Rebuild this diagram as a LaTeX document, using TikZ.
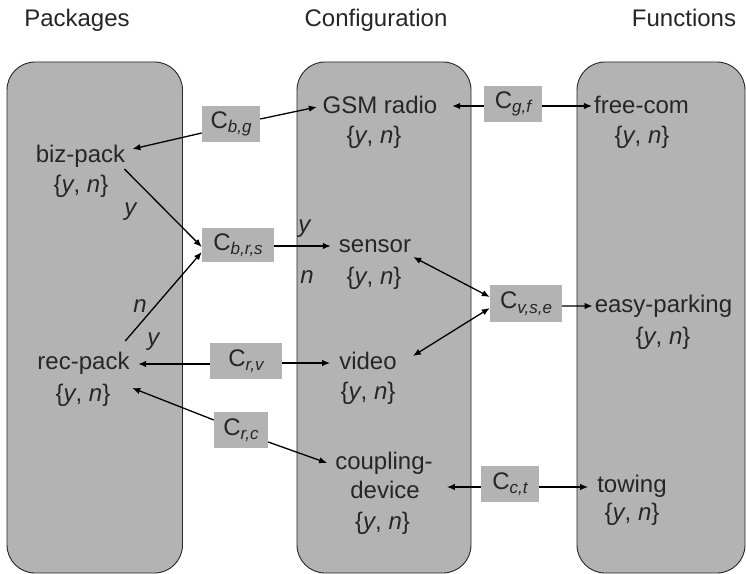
\documentclass[tikz,border=0pt]{standalone}
\usepackage{fontspec}
\setmainfont{Liberation Sans}
\usetikzlibrary{arrows.meta}
\definecolor{panelgray}{RGB}{179,179,179}
\definecolor{txt}{RGB}{38,38,38}
% italic, lowered subscript of a constraint name
\newcommand\csub[1]{\raisebox{-4.5bp}{\fontsize{17bp}{17bp}\selectfont\itshape #1}}
% value domain of a variable
\newcommand\yndom{\{\textit{y}, \textit{n}\}}

\begin{document}
\begin{tikzpicture}[x=1bp,y=-1bp,
  every node/.style={font=\fontsize{24bp}{29bp}\selectfont, text=txt, inner sep=0pt},
  lbl/.style={anchor=base},
  panel/.style={draw=black!85, line width=0.9bp, fill=panelgray, rounded corners=28bp},
  cbox/.style={fill=panelgray, minimum height=36bp, anchor=center},
  link/.style={line width=1.3bp, draw=black},
  onehead/.style={link, -{Latex[length=8bp,width=6.5bp]}},
  twohead/.style={link, {Latex[length=8bp,width=6.5bp]}-{Latex[length=8bp,width=6.5bp]}}
]
\useasboundingbox (0,0) rectangle (746,574);

% column panels
\path[panel] (7,62) rectangle (182.5,573);
\path[panel] (297,62) rectangle (471,573);
\path[panel] (577,62) rectangle (745,573);

% column titles
\node[lbl] (tPack) at (77,27) {Packages};
\node[lbl] (tConf) at (376,27) {Configuration};
\node[lbl] (tFunc) at (684,27) {Functions};

% package variables
\node[lbl] (tBiz) at (80.5,163) {biz-pack};
\node[lbl] (dBiz) at (81,193) {\yndom};
\node[lbl] (tRec) at (83.5,369) {rec-pack};
\node[lbl] (dRec) at (83,401) {\yndom};

% configuration variables
\node[lbl] (tGsm) at (380,114) {GSM radio};
\node[lbl] (dGsm) at (374,144) {\yndom};
\node[lbl] (tSen) at (375,252) {sensor};
\node[lbl] (dSen) at (374,284) {\yndom};
\node[lbl] (tVid) at (368,369) {video};
\node[lbl] (dVid) at (368,399) {\yndom};
\node[lbl] (tCoup) at (384,469) {coupling-};
\node[lbl] (tDev) at (385,498) {device};
\node[lbl] (dCoup) at (382.5,529) {\yndom};

% function variables
\node[lbl] (tFree) at (641.5,114) {free-com};
\node[lbl] (dFree) at (642,144) {\yndom};
\node[lbl] (tEasy) at (663.5,312) {easy-parking};
\node[lbl] (dEasy) at (663,344) {\yndom};
\node[lbl] (tTow) at (632,492) {towing};
\node[lbl] (dTow) at (632,520) {\yndom};

% constraints
\node[cbox, minimum width=58bp, minimum height=36bp] (cbg) at (231,124) {C\csub{b,g}};
\node[cbox, minimum width=72bp, minimum height=34bp] (cbrs) at (238,245) {C\csub{b,r,s}};
\node[cbox, minimum width=58bp, minimum height=36bp] (cgf) at (513,104) {C\csub{g,f}};
\node[cbox, minimum width=72bp, minimum height=37bp] (cvse) at (526,303.5) {C\csub{v,s,e}};
\node[cbox, minimum width=72bp, minimum height=36bp] (crv) at (246,361) {C\csub{r,v}};
\node[cbox, minimum width=54bp, minimum height=36bp] (crc) at (241,430) {C\csub{r,c}};
\node[cbox, minimum width=58bp, minimum height=36bp] (cct) at (510,484) {C\csub{c,t}};

% value labels on the conditional links
\node[lbl] (ly1) at (131,216) {\textit{y}};
\node[lbl] (ln1) at (140,312) {\textit{n}};
\node[lbl] (ly2) at (154,345) {\textit{y}};
\node[lbl] (ly3) at (305,232) {\textit{y}};
\node[lbl] (ln2) at (307,283) {\textit{n}};

% links between constraints and variables
\draw[onehead] ([shift={(0,9)}]cbg.west) -- ([shift={(7,-14)}]tBiz.base east);
\draw[onehead] ([shift={(0,-5)}]cbg.east) -- ([shift={(-5.6,-7)}]tGsm.base west);

\draw[onehead] ([shift={(-1,6)}]tBiz.base east) -- ([shift={(0,2)}]cbrs.west);
\draw[onehead] ([shift={(-4.5,-28)}]tRec.base east) -- ([shift={(0,7)}]cbrs.west);
\draw[onehead] ([shift={(0,1)}]cbrs.east) -- ([shift={(-8,-6)}]tSen.base west);

\draw[onehead] ([shift={(0,2)}]cgf.west) -- ([shift={(14.6,-8)}]tGsm.base east);
\draw[onehead] ([shift={(0,2)}]cgf.east) -- ([shift={(-2,-8)}]tFree.base west);

\draw[twohead] ([shift={(2,5)}]tSen.base east) -- ([shift={(0,-6.5)}]cvse.west);
\draw[twohead] ([shift={(16,-13)}]tVid.base east) -- ([shift={(0,4.5)}]cvse.west);
\draw[onehead] ([shift={(0,2.5)}]cvse.east) -- ([shift={(-2,-6)}]tEasy.base west);

\draw[onehead] ([shift={(0,3)}]crv.west) -- ([shift={(8.5,-5)}]tRec.base east);
\draw[onehead] ([shift={(0,2)}]crv.east) -- ([shift={(-9,-6)}]tVid.base west);

\draw[onehead] ([shift={(0,-10)}]crc.west) -- ([shift={(2.5,19)}]tRec.base east);
\draw[onehead] ([shift={(0,12)}]crc.east) -- ([shift={(-8,-6)}]tCoup.base west);

\draw[onehead] ([shift={(0,3)}]cct.west) -- ([shift={(27,-11)}]tDev.base east);
\draw[onehead] ([shift={(0,3)}]cct.east) -- ([shift={(-9,-5)}]tTow.base west);
\end{tikzpicture}
\end{document}
